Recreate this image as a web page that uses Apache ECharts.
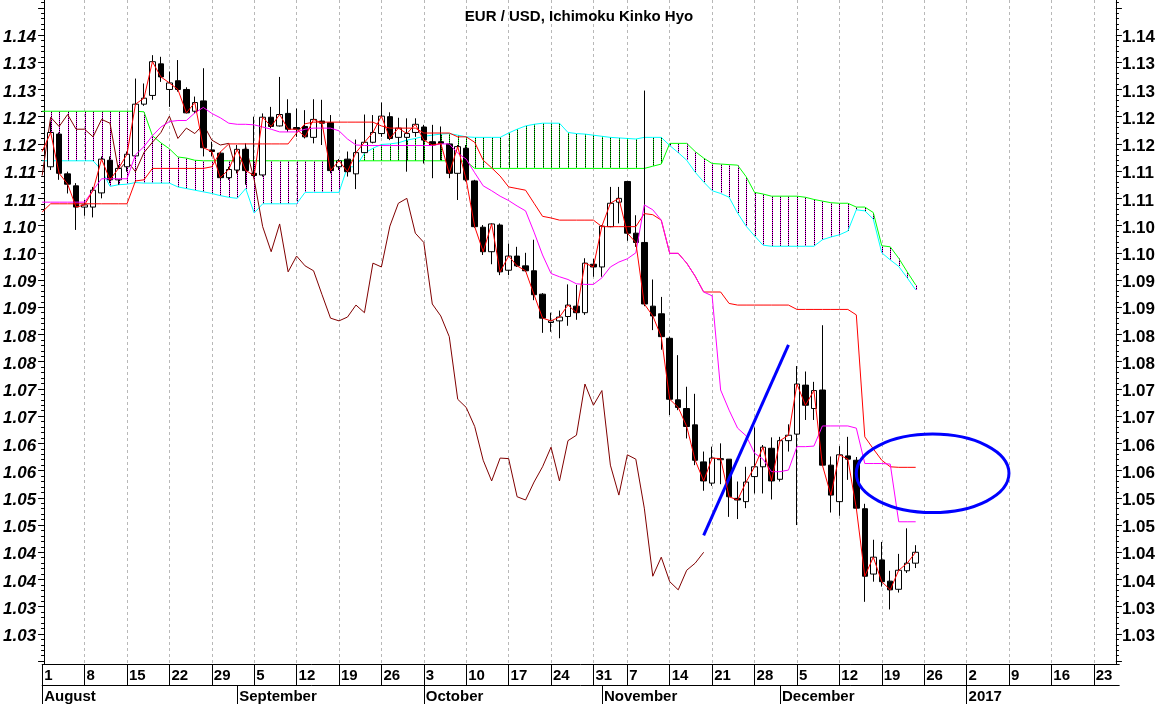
<!DOCTYPE html>
<html>
<head>
<meta charset="utf-8">
<script src="https://cdn.jsdelivr.net/npm/echarts@6/dist/echarts.min.js"></script>
<style>html,body{margin:0;padding:0;background:#fff}#c{width:1158px;height:704px}</style>
</head>
<body>
<div id="c"></div>
<script>
// ---- trading days (categories) ----
const tradingMonths = ['2016-08','2016-09','2016-10','2016-11','2016-12','2017-01'];
const tradingDays = [
  [1,2,3,4,5,8,9,10,11,12,15,16,17,18,19,22,23,24,25,26,29,30,31],
  [1,2,5,6,7,8,9,12,13,14,15,16,19,20,21,22,23,26,27,28,29,30],
  [3,4,5,6,7,10,11,12,13,14,17,18,19,20,21,24,25,26,27,28,31],
  [2,3,4,7,8,9,10,11,14,15,16,17,18,21,22,23,24,25,28,29,30],
  [1,2,5,6,7,8,9,12,13,14,15,16,19,20,21,22,23,26,27,28,29,30],
  [2,3,4,5,6,9,10,11,12,13,16,17,18,19,20,23,24,25,26]
];
const monthLabels = ['August','September','October','November','December','2017'];

// ---- y axis ticks ----
const yMin = 1.02448, yMax = 1.14643;
const yLabelValues = [1.03,1.035,1.04,1.045,1.05,1.055,1.06,1.065,1.07,1.075,1.08,1.085,1.09,1.095,1.10,1.105,1.11,1.115,1.12,1.125,1.13,1.135,1.14];
const yLabelTexts  = ['1.03','1.03','1.04','1.04','1.05','1.05','1.06','1.06','1.07','1.07','1.08','1.08','1.09','1.09','1.10','1.10','1.11','1.11','1.12','1.12','1.13','1.13','1.14'];

// ---- candles (index 0 = 1 Aug, not drawn) ----
const open = [null,
1.1158,1.1218,1.1145,1.1123,1.1084,1.1084,1.1110,1.1170,1.1134,1.1158,
1.1178,1.1273,1.1289,1.1347,1.1300,1.1316,1.1300,1.1260,1.1279,1.1189,
1.1183,1.1138,1.1152,1.1190,1.1146,1.1143,1.1249,1.1233,1.1256,1.1230,
1.1232,1.1212,1.1242,1.1239,1.1158,1.1172,1.1145,1.1184,1.1203,1.1219,
1.1250,1.1212,1.1212,1.1221,1.1231,1.1204,1.1204,1.1200,1.1146,1.1192,
1.1132,1.1047,1.1002,1.1051,1.0968,1.0994,1.0976,1.0967,1.0924,1.0872,
1.0875,1.0883,1.0902,1.0890,1.0979,1.0974,1.1048,1.1093,1.1131,1.1036,
1.1019,1.0902,1.0888,1.0843,1.0730,1.0714,1.0684,1.0616,1.0577,1.0620,
1.0621,1.0549,1.0543,1.0589,1.0607,1.0641,1.0584,1.0655,1.0667,1.0757,
1.0714,1.0748,1.0610,1.0543,1.0627,1.0619,1.0530,1.0410,1.0436,1.0397,
1.0382,1.0416,1.0430];
const high = [null,
1.1241,1.1221,1.1149,1.1128,1.1097,1.1121,1.1177,1.1177,1.1161,1.1186,
1.1320,1.1311,1.1363,1.1360,1.1333,1.1354,1.1304,1.1287,1.1339,1.1204,
1.1186,1.1158,1.1198,1.1201,1.1250,1.1256,1.1268,1.1323,1.1282,1.1265,
1.1262,1.1282,1.1281,1.1253,1.1172,1.1186,1.1208,1.1254,1.1253,1.1276,
1.1258,1.1248,1.1247,1.1247,1.1235,1.1235,1.1232,1.1201,1.1198,1.1198,
1.1134,1.1051,1.1054,1.1054,1.1017,1.1011,1.1000,1.1024,1.0926,1.0890,
1.0894,1.0942,1.0941,1.0990,1.0989,1.1051,1.1121,1.1121,1.1131,1.1069,
1.1298,1.0951,1.0919,1.0846,1.0812,1.0754,1.0741,1.0635,1.0644,1.0650,
1.0621,1.0580,1.0607,1.0679,1.0647,1.0661,1.0662,1.0685,1.0792,1.0782,
1.0763,1.0867,1.0626,1.0645,1.0662,1.0625,1.0539,1.0473,1.0469,1.0416,
1.0447,1.0494,1.0463];
const low = [null,
1.1152,1.1134,1.1109,1.1042,1.1068,1.1065,1.1100,1.1128,1.1125,1.1149,
1.1178,1.1270,1.1281,1.1314,1.1268,1.1296,1.1256,1.1256,1.1177,1.1177,
1.1134,1.1134,1.1146,1.1125,1.1140,1.1140,1.1229,1.1232,1.1222,1.1213,
1.1210,1.1201,1.1198,1.1146,1.1152,1.1140,1.1117,1.1183,1.1201,1.1213,
1.1207,1.1189,1.1149,1.1213,1.1164,1.1137,1.1170,1.1137,1.1097,1.1131,
1.1046,1.0996,1.0979,1.0959,1.0959,1.0974,1.0965,1.0913,1.0853,1.0855,
1.0843,1.0866,1.0877,1.0886,1.0956,1.0956,1.1047,1.1054,1.1022,1.1011,
1.0902,1.0858,1.0822,1.0702,1.0711,1.0659,1.0610,1.0563,1.0572,1.0575,
1.0515,1.0511,1.0531,1.0558,1.0558,1.0547,1.0580,1.0635,1.0500,1.0693,
1.0693,1.0610,1.0523,1.0517,1.0583,1.0528,1.0359,1.0396,1.0387,1.0345,
1.0376,1.0412,1.0421];
const close = [1.1186,
1.1221,1.1146,1.1126,1.1084,1.1088,1.1115,1.1172,1.1134,1.1155,1.1181,
1.1273,1.1284,1.1351,1.1323,1.1312,1.1300,1.1257,1.1276,1.1193,1.1186,
1.1138,1.1153,1.1190,1.1151,1.1142,1.1249,1.1232,1.1254,1.1227,1.1227,
1.1213,1.1245,1.1238,1.1151,1.1169,1.1149,1.1184,1.1203,1.1221,1.1251,
1.1210,1.1229,1.1219,1.1236,1.1207,1.1198,1.1201,1.1146,1.1195,1.1134,
1.1048,1.1002,1.1053,1.0965,1.0994,1.0976,1.0967,1.0923,1.0880,1.0875,
1.0882,1.0904,1.0890,1.0981,1.0974,1.1049,1.1091,1.1100,1.1036,1.1019,
1.0906,1.0884,1.0846,1.0731,1.0716,1.0681,1.0619,1.0581,1.0623,1.0622,
1.0552,1.0546,1.0579,1.0607,1.0643,1.0581,1.0655,1.0665,1.0759,1.0720,
1.0747,1.0610,1.0555,1.0629,1.0621,1.0531,1.0406,1.0441,1.0396,1.0381,
1.0417,1.0430,1.0450];

// ---- Ichimoku lines ----
const kijun = [
1.1075,1.1090,1.1090,1.1090,1.1090,1.1090,1.1090,1.1090,1.1090,1.1090,
1.1090,1.1132,1.1134,1.1155,1.1155,1.1155,1.1155,1.1155,1.1155,1.1155,
1.1158,1.1185,1.1200,1.1200,1.1200,1.1200,1.1200,1.1200,1.1200,1.1200,
1.1220,1.1237,1.1240,1.1240,1.1240,1.1240,1.1240,1.1240,1.1240,1.1240,
1.1233,1.1229,1.1229,1.1229,1.1229,1.1220,1.1220,1.1220,1.1220,1.1213,
1.1213,1.1203,1.1170,1.1156,1.1141,1.1121,1.1118,1.1115,1.1091,1.1067,
1.1064,1.1060,1.1060,1.1060,1.1060,1.1060,1.1048,1.1048,1.1048,1.1048,
1.1048,1.1072,1.1070,1.1060,1.0999,1.0999,1.0981,1.0957,1.0928,1.0928,
1.0928,1.0907,1.0904,1.0904,1.0904,1.0904,1.0904,1.0904,1.0904,1.0896,
1.0896,1.0896,1.0896,1.0896,1.0896,1.0896,1.0886,1.0662,1.0640,1.0619,
1.0607,1.0606,1.0606,1.0606];
const tenkan = [
1.1093,1.1093,1.1093,1.1093,1.1093,1.1093,1.1115,1.1136,1.1136,1.1136,
1.1136,1.1180,1.1195,1.1215,1.1231,1.1241,1.1243,1.1243,1.1257,1.1267,
1.1256,1.1248,1.1238,1.1236,1.1236,1.1235,1.1231,1.1227,1.1222,1.1222,
1.1222,1.1227,1.1229,1.1229,1.1229,1.1224,1.1209,1.1198,1.1197,1.1197,
1.1197,1.1197,1.1197,1.1197,1.1197,1.1197,1.1197,1.1200,1.1200,1.1183,
1.1172,1.1147,1.1123,1.1114,1.1104,1.1096,1.1086,1.1077,1.1038,1.0996,
1.0962,1.0956,1.0951,1.0943,1.0942,1.0942,1.0954,1.0974,1.0983,1.0989,
1.1000,1.1088,1.1079,1.1060,1.0999,1.0999,1.0981,1.0957,1.0928,1.0921,
1.0748,1.0711,1.0678,1.0664,1.0632,1.0621,1.0598,1.0598,1.0601,1.0644,
1.0644,1.0645,1.0682,1.0682,1.0682,1.0682,1.0678,1.0613,1.0613,1.0613,
1.0612,1.0506,1.0506,1.0506];
const senkouA = [
1.1260,1.1260,1.1260,1.1260,1.1260,1.1260,1.1260,1.1260,1.1260,1.1260,
1.1260,1.1260,1.1259,1.1215,1.1202,1.1191,1.1176,1.1174,1.1170,1.1169,
1.1169,1.1169,1.1169,1.1169,1.1169,1.1169,1.1169,1.1169,1.1169,1.1169,
1.1169,1.1169,1.1169,1.1169,1.1169,1.1169,1.1169,1.1169,1.1169,1.1169,
1.1169,1.1169,1.1169,1.1169,1.1169,1.1169,1.1169,1.1169,1.1169,1.1169,
1.1168,1.1155,1.1155,1.1155,1.1155,1.1155,1.1155,1.1155,1.1155,1.1155,
1.1155,1.1155,1.1155,1.1155,1.1155,1.1155,1.1155,1.1155,1.1155,1.1155,
1.1155,1.1155,1.1159,1.1163,1.1201,1.1201,1.1201,1.1186,1.1174,1.1164,
1.1163,1.1162,1.1161,1.1140,1.1111,1.1108,1.1104,1.1104,1.1104,1.1104,
1.1102,1.1098,1.1095,1.1092,1.1091,1.1091,1.1084,1.1084,1.1074,1.1013,
1.1011,1.0990,1.0965,1.0941];
const senkouB = [
1.1169,1.1169,1.1169,1.1169,1.1169,1.1169,1.1169,1.1152,1.1122,1.1125,
1.1126,1.1129,1.1128,1.1128,1.1128,1.1128,1.1121,1.1118,1.1115,1.1112,
1.1109,1.1105,1.1102,1.1100,1.1118,1.1073,1.1090,1.1090,1.1090,1.1090,
1.1090,1.1111,1.1111,1.1111,1.1111,1.1111,1.1158,1.1158,1.1183,1.1192,
1.1199,1.1200,1.1202,1.1207,1.1210,1.1214,1.1216,1.1218,1.1219,1.1216,
1.1213,1.1212,1.1212,1.1212,1.1212,1.1220,1.1227,1.1233,1.1236,1.1238,
1.1238,1.1238,1.1221,1.1219,1.1218,1.1216,1.1214,1.1212,1.1211,1.1210,
1.1209,1.1212,1.1212,1.1212,1.1197,1.1184,1.1170,1.1148,1.1130,1.1114,
1.1109,1.1102,1.1073,1.1049,1.1031,1.1014,1.1012,1.1012,1.1012,1.1012,
1.1012,1.1012,1.1024,1.1029,1.1033,1.1040,1.1079,1.1077,1.1062,1.1000,
1.0987,1.0975,1.0954,1.0932];
const chikou = [
1.1142,1.1249,1.1232,1.1254,1.1227,1.1227,1.1213,1.1245,1.1238,1.1151,
1.1169,1.1149,1.1184,1.1203,1.1221,1.1251,1.1210,1.1229,1.1219,1.1236,
1.1207,1.1198,1.1201,1.1146,1.1195,1.1134,1.1048,1.1002,1.1053,1.0965,
1.0994,1.0976,1.0967,1.0923,1.0880,1.0875,1.0882,1.0904,1.0890,1.0981,
1.0974,1.1049,1.1091,1.1100,1.1036,1.1019,1.0906,1.0884,1.0846,1.0731,
1.0716,1.0681,1.0619,1.0581,1.0623,1.0622,1.0552,1.0546,1.0579,1.0607,
1.0643,1.0581,1.0655,1.0665,1.0759,1.0720,1.0747,1.0610,1.0555,1.0629,
1.0621,1.0531,1.0406,1.0441,1.0396,1.0381,1.0417,1.0430,1.0450];

// ---- annotations ----
const trendLine = [['2016-11-18', 1.0481], ['2016-12-02', 1.0831]];
const ellipseCenter = ['2016-12-27', 1.0595];
const ellipseRadius = [9, 0.0072]; // trading days, price

// ---- build ----
const categories = [];
tradingMonths.forEach((m, k) => tradingDays[k].forEach(d => categories.push(m + '-' + String(d).padStart(2, '0'))));
const isMonday = i => new Date(categories[i] + 'T12:00:00').getDay() === 1;
const isMonthStart = i => i === 0 || categories[i].slice(0, 7) !== categories[i - 1].slice(0, 7);
const monthLabelOf = v => monthLabels[tradingMonths.indexOf(v.slice(0, 7))];

const candleData = close.map((c, i) => open[i] == null ? '-' : [open[i], c, low[i], high[i]]);
const hatchData = [];
for (let i = 1; i < senkouA.length; i++) hatchData.push([i, senkouA[i], senkouB[i]]);

const majorTicks = [1.025].concat(yLabelValues, [1.145]);
const minorTicks = [];
for (let k = 0; k <= 121; k++) minorTicks.push(Math.round((1.025 + k * 0.001) * 10000) / 10000);

const FONT = '"Liberation Sans", Arial, sans-serif';
const yLabel = v => {
  let best = 0;
  yLabelValues.forEach((t, k) => { if (Math.abs(t - v) < Math.abs(yLabelValues[best] - v)) best = k; });
  return '{t|' + yLabelTexts[best] + '}';
};
const yRich = (italic) => ({ t: { padding: [5, 0, 0, 0], fontSize: 17, fontWeight: 'bold', fontStyle: italic ? 'italic' : 'normal', color: '#000', fontFamily: FONT } });
const yBase = {
  type: 'value', min: yMin, max: yMax, scale: true,
  splitLine: { show: false },
  axisLine: { show: true, onZero: false, lineStyle: { color: '#000', width: 1 } }
};

const chart = echarts.init(document.getElementById('c'));
chart.setOption({
  animation: false,
  backgroundColor: '#fff',
  title: {
    text: 'EUR / USD, Ichimoku Kinko Hyo', left: 'center', top: 4,
    textStyle: { fontSize: 15, fontWeight: 'bold', color: '#000', fontFamily: FONT }
  },
  grid: { left: 39.1, right: 36.7, top: 0, bottom: 40, containLabel: false },
  xAxis: [
    {
      type: 'category', data: categories, boundaryGap: false, position: 'bottom',
      axisLine: { onZero: false, lineStyle: { color: '#000', width: 1 } },
      axisTick: { show: true, interval: (i) => isMonday(i), length: 21, lineStyle: { color: '#000' } },
      axisLabel: {
        interval: (i) => isMonday(i), formatter: v => String(+v.slice(8)),
        align: 'left', margin: 4, padding: [0, 0, 0, 2],
        fontSize: 15, fontWeight: 'bold', color: '#000', fontFamily: FONT
      },
      splitLine: { show: true, interval: (i) => i > 0 && isMonday(i), lineStyle: { color: '#b8b8b8', width: 1, type: [3, 3] } }
    },
    {
      type: 'category', data: categories, boundaryGap: false, position: 'bottom', offset: 21,
      axisLine: { onZero: false, lineStyle: { color: '#000', width: 1 } },
      axisTick: { show: true, interval: (i) => isMonthStart(i), length: 19, lineStyle: { color: '#000' } },
      axisLabel: {
        interval: (i) => isMonthStart(i), formatter: monthLabelOf,
        align: 'left', margin: 4, padding: [0, 0, 0, 2],
        fontSize: 15, fontWeight: 'bold', color: '#000', fontFamily: FONT
      },
      splitLine: { show: false }
    }
  ],
  yAxis: [
    Object.assign({}, yBase, {
      position: 'left', offset: -1.9,
      axisTick: { show: true, length: 6, customValues: majorTicks, lineStyle: { color: '#000' } },
      axisLabel: { customValues: yLabelValues, formatter: yLabel, margin: 8, rich: yRich(true) }
    }),
    Object.assign({}, yBase, {
      position: 'right', offset: -3.3,
      axisTick: { show: true, length: 6, customValues: majorTicks, lineStyle: { color: '#000' } },
      axisLabel: { customValues: yLabelValues, formatter: yLabel, margin: 6, rich: yRich(false) }
    }),
    Object.assign({}, yBase, {
      position: 'left', offset: -1.9, axisLine: { show: false },
      axisTick: { show: true, length: 3, customValues: minorTicks, lineStyle: { color: '#000' } },
      axisLabel: { show: false }
    }),
    Object.assign({}, yBase, {
      position: 'right', offset: -3.3, axisLine: { show: false },
      axisTick: { show: true, length: 3, customValues: minorTicks, lineStyle: { color: '#000' } },
      axisLabel: { show: false }
    })
  ],
  series: [
    {
      name: 'cloud', type: 'custom', z: 1, silent: true, data: hatchData,
      encode: { x: 0, y: [1, 2] },
      renderItem: (params, api) => {
        const i = api.value(0), a = api.value(1), b = api.value(2);
        const p1 = api.coord([i, a]), p2 = api.coord([i, b]);
        const x = Math.round(p1[0]) + 0.5;
        const col = a >= b ? '#ff00ff' : '#00e000';
        const shape = { x1: x, y1: Math.round(p1[1]), x2: x, y2: Math.round(p2[1]) };
        return { type: 'group', children: [
          { type: 'line', shape: shape, style: { stroke: '#000', lineWidth: 1 } },
          { type: 'line', shape: shape, style: { stroke: col, lineWidth: 1, lineDash: [1, 1] } }
        ] };
      }
    },
    { name: 'Senkou A', type: 'line', z: 2, data: senkouA, symbol: 'none', lineStyle: { color: '#00ff00', width: 1 } },
    { name: 'Senkou B', type: 'line', z: 2, data: senkouB, symbol: 'none', lineStyle: { color: '#00ffff', width: 1 } },
    { name: 'Chikou', type: 'line', z: 2, data: chikou, symbol: 'none', lineStyle: { color: '#800000', width: 1 } },
    {
      name: 'EUR/USD', type: 'candlestick', z: 3, data: candleData, barWidth: 6,
      itemStyle: { color: '#ffffff', color0: '#000000', borderColor: '#000000', borderColor0: '#000000', borderWidth: 1 }
    },
    { name: 'Kijun', type: 'line', z: 4, data: kijun, symbol: 'none', lineStyle: { color: '#ff0000', width: 1 } },
    { name: 'Tenkan', type: 'line', z: 4, data: tenkan, symbol: 'none', lineStyle: { color: '#ff00ff', width: 1 } },
    {
      name: 'Close', type: 'line', z: 5, data: close, symbol: 'none', lineStyle: { color: '#ff0000', width: 1 },
      markLine: {
        silent: true, symbol: ['none', 'none'], label: { show: false },
        lineStyle: { color: '#0000ff', width: 3, type: 'solid' },
        data: [[{ coord: trendLine[0] }, { coord: trendLine[1] }]]
      }
    },
    {
      name: 'ellipse', type: 'custom', z: 6, silent: true, data: [ellipseCenter],
      renderItem: (params, api) => {
        const c = api.coord([api.value(0), api.value(1)]);
        const e = api.coord([api.value(0) + ellipseRadius[0], api.value(1) + ellipseRadius[1]]);
        return { type: 'ellipse', shape: { cx: c[0], cy: c[1], rx: Math.abs(e[0] - c[0]), ry: Math.abs(c[1] - e[1]) },
          style: { fill: 'none', stroke: '#0000ff', lineWidth: 3 } };
      }
    }
  ]
});
</script>
</body>
</html>
